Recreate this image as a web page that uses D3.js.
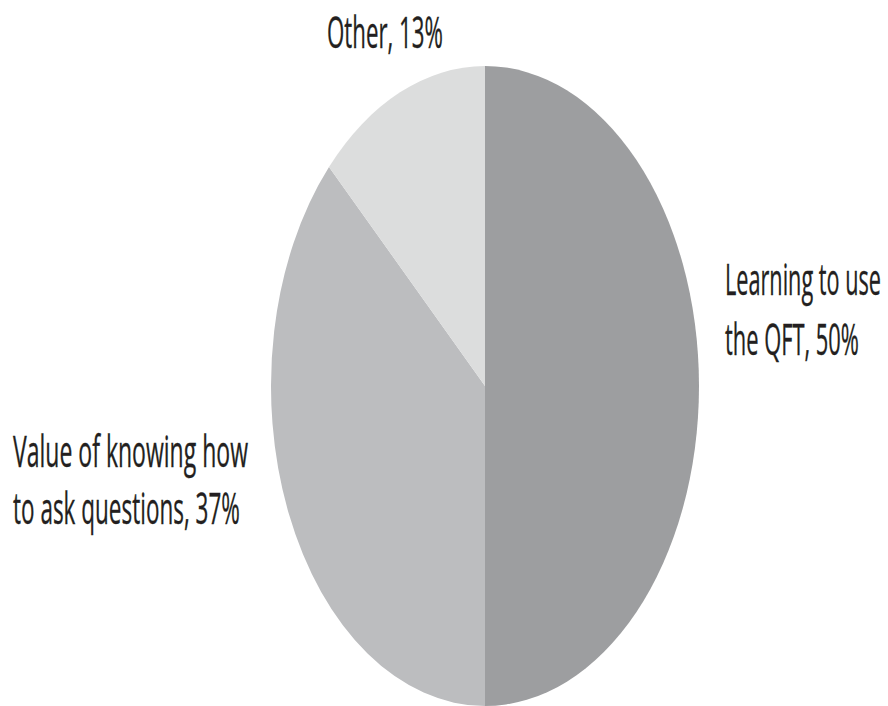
<!DOCTYPE html>
<html>
<head>
<meta charset="utf-8">
<script src="https://cdn.jsdelivr.net/npm/d3@7"></script>
<style>
  html, body { margin: 0; padding: 0; background: #fff; }
  text { font-family: "Liberation Sans Narrow", "Open Sans", "DejaVu Sans Condensed", sans-serif; fill: #231f20; stroke: #231f20; stroke-width: 0.35px; }
</style>
</head>
<body>
<svg id="chart" width="888" height="706"></svg>
<script>
const categories = ["Learning to use the QFT", "Value of knowing how to ask questions", "Other"];
const values = [50, 37, 13];
const labelLines = [["Learning to use", "the QFT, 50%"], ["Value of knowing how", "to ask questions, 37%"], ["Other, 13%"]];
const colors = ["#9d9ea0", "#bcbdbf", "#dcdddd"];

const W = 888, H = 706;
const cx = 485, cy = 386, rx = 214, ry = 320;

const svg = d3.select("#chart");
const pie = d3.pie().sort(null).value(d => d)(values);
const arc = d3.arc().innerRadius(0).outerRadius(ry);

const g = svg.append("g").attr("transform", `translate(${cx},${cy}) scale(${rx / ry},1)`);
g.selectAll("path").data(pie).join("path")
  .attr("d", arc)
  .attr("fill", (d, i) => colors[i]);

// label layout (positions / fitted widths)
const labelLayout = [
  { x: 725, y: 295, dy: 60, widths: [156, 134] },
  { x: 13, y: 467, dy: 57, widths: [235, 227] },
  { x: 327, y: 48, dy: 0, widths: [116] }
];
labelLines.forEach((lines, i) => {
  const L = labelLayout[i];
  lines.forEach((t, j) => {
    const tg = svg.append("g").attr("transform", `translate(${L.x},${L.y + j * L.dy})`);
    const txt = tg.append("text")
      .attr("x", 0).attr("y", 0)
      .attr("font-size", 44)
      .text(t);
    const natural = txt.node().getComputedTextLength();
    txt.attr("transform", `scale(${L.widths[j] / natural},1)`);
  });
});
</script>
</body>
</html>
